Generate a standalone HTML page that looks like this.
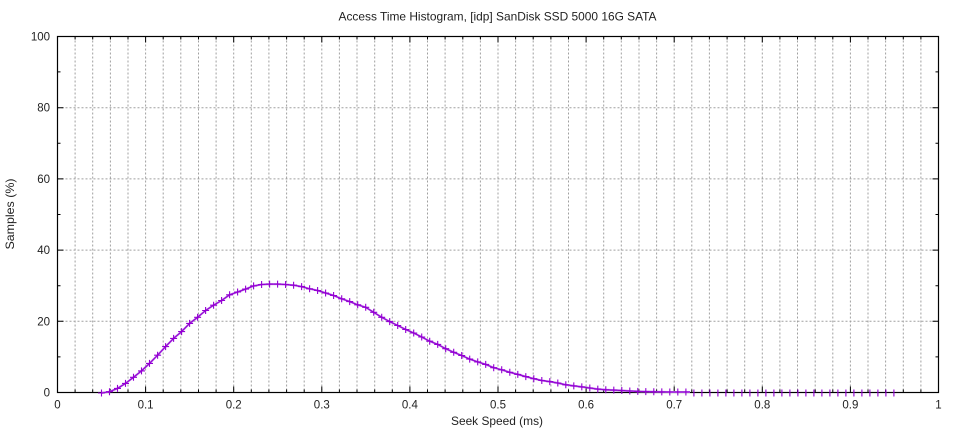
<!DOCTYPE html>
<html><head><meta charset="utf-8"><style>
html,body{margin:0;padding:0;background:#fff;}
svg{display:block;font-family:"Liberation Sans",sans-serif;}
</style></head><body>
<svg width="960" height="432" viewBox="0 0 960 432" xmlns="http://www.w3.org/2000/svg">
<rect width="960" height="432" fill="#fff"/>
<!-- grid -->
<g stroke="#a0a0a0" stroke-width="1" stroke-dasharray="2,2" fill="none">
<path d="M75.1 36.5V392.5M92.7 36.5V392.5M110.4 36.5V392.5M128 36.5V392.5M145.6 36.5V392.5M163.2 36.5V392.5M180.8 36.5V392.5M198.5 36.5V392.5M216.1 36.5V392.5M233.7 36.5V392.5M251.3 36.5V392.5M268.9 36.5V392.5M286.6 36.5V392.5M304.2 36.5V392.5M321.8 36.5V392.5M339.4 36.5V392.5M357 36.5V392.5M374.7 36.5V392.5M392.3 36.5V392.5M409.9 36.5V392.5M427.5 36.5V392.5M445.1 36.5V392.5M462.8 36.5V392.5M480.4 36.5V392.5M498 36.5V392.5M515.6 36.5V392.5M533.2 36.5V392.5M550.9 36.5V392.5M568.5 36.5V392.5M586.1 36.5V392.5M603.7 36.5V392.5M621.3 36.5V392.5M639 36.5V392.5M656.6 36.5V392.5M674.2 36.5V392.5M691.8 36.5V392.5M709.4 36.5V392.5M727.1 36.5V392.5M744.7 36.5V392.5M762.3 36.5V392.5M779.9 36.5V392.5M797.5 36.5V392.5M815.2 36.5V392.5M832.8 36.5V392.5M850.4 36.5V392.5M868 36.5V392.5M885.6 36.5V392.5M903.3 36.5V392.5M920.9 36.5V392.5"/>
<path d="M57.5 321.3H938.5M57.5 250.1H938.5M57.5 178.9H938.5M57.5 107.7H938.5"/>
</g>
<!-- ticks -->
<g stroke="#000" stroke-width="1" fill="none">
<path d="M145.6 392.5v-6M233.7 392.5v-6M321.8 392.5v-6M409.9 392.5v-6M498 392.5v-6M586.1 392.5v-6M674.2 392.5v-6M762.3 392.5v-6M850.4 392.5v-6
M145.6 36.5v6M233.7 36.5v6M321.8 36.5v6M409.9 36.5v6M498 36.5v6M586.1 36.5v6M674.2 36.5v6M762.3 36.5v6M850.4 36.5v6"/>
<path d="M75.1 392.5v-3M92.7 392.5v-3M110.4 392.5v-3M128 392.5v-3M163.2 392.5v-3M180.8 392.5v-3M198.5 392.5v-3M216.1 392.5v-3M251.3 392.5v-3M268.9 392.5v-3M286.6 392.5v-3M304.2 392.5v-3M339.4 392.5v-3M357 392.5v-3M374.7 392.5v-3M392.3 392.5v-3M427.5 392.5v-3M445.1 392.5v-3M462.8 392.5v-3M480.4 392.5v-3M515.6 392.5v-3M533.2 392.5v-3M550.9 392.5v-3M568.5 392.5v-3M603.7 392.5v-3M621.3 392.5v-3M639 392.5v-3M656.6 392.5v-3M691.8 392.5v-3M709.4 392.5v-3M727.1 392.5v-3M744.7 392.5v-3M779.9 392.5v-3M797.5 392.5v-3M815.2 392.5v-3M832.8 392.5v-3M868 392.5v-3M885.6 392.5v-3M903.3 392.5v-3M920.9 392.5v-3
M75.1 36.5v3M92.7 36.5v3M110.4 36.5v3M128 36.5v3M163.2 36.5v3M180.8 36.5v3M198.5 36.5v3M216.1 36.5v3M251.3 36.5v3M268.9 36.5v3M286.6 36.5v3M304.2 36.5v3M339.4 36.5v3M357 36.5v3M374.7 36.5v3M392.3 36.5v3M427.5 36.5v3M445.1 36.5v3M462.8 36.5v3M480.4 36.5v3M515.6 36.5v3M533.2 36.5v3M550.9 36.5v3M568.5 36.5v3M603.7 36.5v3M621.3 36.5v3M639 36.5v3M656.6 36.5v3M691.8 36.5v3M709.4 36.5v3M727.1 36.5v3M744.7 36.5v3M779.9 36.5v3M797.5 36.5v3M815.2 36.5v3M832.8 36.5v3M868 36.5v3M885.6 36.5v3M903.3 36.5v3M920.9 36.5v3"/>
<path d="M57.5 321.3h6M57.5 250.1h6M57.5 178.9h6M57.5 107.7h6M938.5 321.3h-6M938.5 250.1h-6M938.5 178.9h-6M938.5 107.7h-6
M57.5 356.9h3M57.5 285.7h3M57.5 214.5h3M57.5 143.3h3M57.5 71.9h3M938.5 356.9h-3M938.5 285.7h-3M938.5 214.5h-3M938.5 143.3h-3M938.5 71.9h-3"/>
</g>
<!-- border -->
<rect x="57.5" y="36.5" width="881" height="356" fill="none" stroke="#000" stroke-width="1.2"/>
<!-- series -->
<polyline fill="none" stroke="#b86ee6" stroke-width="2" stroke-linejoin="round" points="101.5,393 109.5,391.7 117.5,388.4 125.5,383.4 133.5,377.3 141.5,370.9 149.5,363.4 157.6,355.2 165.6,346.6 173.6,338.4 181.6,331.6 189.6,323.4 197.6,317.3 205.6,310.5 213.6,305.2 221.6,300.5 229.6,294.8 237.6,292 245.6,289.1 253.6,285.9 261.6,284.5 269.6,284.1 277.6,284.1 285.6,284.5 293.6,285.2 301.6,286.6 309.6,288.8 317.6,290.5 325.6,293 333.6,295.5 341.7,298.8 349.7,301.6 357.7,304.8 365.7,307.3 373.7,312.3 381.7,317.3 389.7,321.6 397.7,325.5 405.7,329.5 413.7,333 421.7,337 429.7,341.2 437.7,344.4 445.7,348.7 453.7,352.3 461.7,355.5 469.7,359.1 477.7,361.9 485.7,364.4 493.7,367.7 501.7,369.8 509.8,372.3 517.8,374.4 525.8,376.6 533.8,378.7 541.8,380.5 549.8,381.6 557.8,383 565.8,384.8 573.8,385.9 581.8,386.9 589.8,388 597.8,389.1 605.8,389.8 613.8,390.1 621.8,390.5 629.8,391 637.8,391.4 645.8,391.6 653.8,391.8 661.8,391.9 669.8,392 677.8,392 685.9,392 690,392"/>
<polyline fill="none" stroke="#9400d3" stroke-width="1" stroke-linejoin="round" points="101.5,393 109.5,391.7 117.5,388.4 125.5,383.4 133.5,377.3 141.5,370.9 149.5,363.4 157.6,355.2 165.6,346.6 173.6,338.4 181.6,331.6 189.6,323.4 197.6,317.3 205.6,310.5 213.6,305.2 221.6,300.5 229.6,294.8 237.6,292 245.6,289.1 253.6,285.9 261.6,284.5 269.6,284.1 277.6,284.1 285.6,284.5 293.6,285.2 301.6,286.6 309.6,288.8 317.6,290.5 325.6,293 333.6,295.5 341.7,298.8 349.7,301.6 357.7,304.8 365.7,307.3 373.7,312.3 381.7,317.3 389.7,321.6 397.7,325.5 405.7,329.5 413.7,333 421.7,337 429.7,341.2 437.7,344.4 445.7,348.7 453.7,352.3 461.7,355.5 469.7,359.1 477.7,361.9 485.7,364.4 493.7,367.7 501.7,369.8 509.8,372.3 517.8,374.4 525.8,376.6 533.8,378.7 541.8,380.5 549.8,381.6 557.8,383 565.8,384.8 573.8,385.9 581.8,386.9 589.8,388 597.8,389.1 605.8,389.8 613.8,390.1 621.8,390.5 629.8,391 637.8,391.4 645.8,391.6 653.8,391.8 661.8,391.9 669.8,392 677.8,392 685.9,392 690,392"/>
<!-- markers -->
<path fill="none" stroke="#9400d3" stroke-width="1.1" d="
M98 393h7M101.5 389.5v7 M106 391.7h7M109.5 388.2v7 M114 388.4h7M117.5 384.9v7 M122 383.4h7M125.5 379.9v7 M130 377.3h7M133.5 373.8v7 M138 370.9h7M141.5 367.4v7 M146 363.4h7M149.5 359.9v7 M154.1 355.2h7M157.6 351.7v7 M162.1 346.6h7M165.6 343.1v7 M170.1 338.4h7M173.6 334.9v7 M178.1 331.6h7M181.6 328.1v7 M186.1 323.4h7M189.6 319.9v7 M194.1 317.3h7M197.6 313.8v7 M202.1 310.5h7M205.6 307v7 M210.1 305.2h7M213.6 301.7v7 M218.1 300.5h7M221.6 297v7 M226.1 294.8h7M229.6 291.3v7 M234.1 292h7M237.6 288.5v7 M242.1 289.1h7M245.6 285.6v7 M250.1 285.9h7M253.6 282.4v7 M258.1 284.5h7M261.6 281v7 M266.1 284.1h7M269.6 280.6v7 M274.1 284.1h7M277.6 280.6v7 M282.1 284.5h7M285.6 281v7 M290.1 285.2h7M293.6 281.7v7 M298.1 286.6h7M301.6 283.1v7 M306.1 288.8h7M309.6 285.3v7 M314.1 290.5h7M317.6 287v7 M322.1 293h7M325.6 289.5v7 M330.1 295.5h7M333.6 292v7 M338.2 298.8h7M341.7 295.3v7 M346.2 301.6h7M349.7 298.1v7 M354.2 304.8h7M357.7 301.3v7 M362.2 307.3h7M365.7 303.8v7 M370.2 312.3h7M373.7 308.8v7 M378.2 317.3h7M381.7 313.8v7 M386.2 321.6h7M389.7 318.1v7 M394.2 325.5h7M397.7 322v7 M402.2 329.5h7M405.7 326v7 M410.2 333h7M413.7 329.5v7 M418.2 337h7M421.7 333.5v7 M426.2 341.2h7M429.7 337.7v7 M434.2 344.4h7M437.7 340.9v7 M442.2 348.7h7M445.7 345.2v7 M450.2 352.3h7M453.7 348.8v7 M458.2 355.5h7M461.7 352v7 M466.2 359.1h7M469.7 355.6v7 M474.2 361.9h7M477.7 358.4v7 M482.2 364.4h7M485.7 360.9v7 M490.2 367.7h7M493.7 364.2v7 M498.2 369.8h7M501.7 366.3v7 M506.3 372.3h7M509.8 368.8v7 M514.3 374.4h7M517.8 370.9v7 M522.3 376.6h7M525.8 373.1v7 M530.3 378.7h7M533.8 375.2v7 M538.3 380.5h7M541.8 377v7 M546.3 381.6h7M549.8 378.1v7 M554.3 383h7M557.8 379.5v7 M562.3 384.8h7M565.8 381.3v7 M570.3 385.9h7M573.8 382.4v7 M578.3 386.9h7M581.8 383.4v7 M586.3 388h7M589.8 384.5v7 M594.3 389.1h7M597.8 385.6v7 M602.3 389.8h7M605.8 386.3v7 M610.3 390.1h7M613.8 386.6v7 M618.3 390.5h7M621.8 387v7 M626.3 391h7M629.8 387.5v7 M634.3 391.4h7M637.8 387.9v7 M642.3 391.6h7M645.8 388.1v7 M650.3 391.8h7M653.8 388.3v7 M658.3 391.9h7M661.8 388.4v7 M666.3 392h7M669.8 388.5v7 M674.3 392h7M677.8 388.5v7 M682.4 392h7M685.9 388.5v7
M693.9 389.5v7M701.9 389.5v7M709.9 389.5v7M717.9 389.5v7M725.9 389.5v7M733.9 389.5v7M741.9 389.5v7M749.9 389.5v7M757.9 389.5v7M765.9 389.5v7M773.9 389.5v7M781.9 389.5v7M789.9 389.5v7M797.9 389.5v7M805.9 389.5v7M813.9 389.5v7M821.9 389.5v7M829.9 389.5v7M837.9 389.5v7M845.9 389.5v7M853.9 389.5v7M861.9 389.5v7M869.9 389.5v7M877.9 389.5v7M885.9 389.5v7M893.9 389.5v7"/>
<!-- labels -->
<g font-size="11.5" fill="#222">
<text x="50" y="40.5" text-anchor="end">100</text>
<text x="50" y="111.7" text-anchor="end">80</text>
<text x="50" y="182.9" text-anchor="end">60</text>
<text x="50" y="254.1" text-anchor="end">40</text>
<text x="50" y="325.3" text-anchor="end">20</text>
<text x="50" y="396.5" text-anchor="end">0</text>
<g text-anchor="middle">
<text x="57.5" y="408.5">0</text>
<text x="145.6" y="408.5">0.1</text>
<text x="233.7" y="408.5">0.2</text>
<text x="321.8" y="408.5">0.3</text>
<text x="409.9" y="408.5">0.4</text>
<text x="498" y="408.5">0.5</text>
<text x="586.1" y="408.5">0.6</text>
<text x="674.2" y="408.5">0.7</text>
<text x="762.3" y="408.5">0.8</text>
<text x="850.4" y="408.5">0.9</text>
<text x="938.5" y="408.5">1</text>
</g>
</g>
<text x="497.5" y="20.5" font-size="12" fill="#222" text-anchor="middle" textLength="318" lengthAdjust="spacingAndGlyphs">Access Time Histogram, [idp] SanDisk SSD 5000 16G SATA</text>
<text x="497" y="425" font-size="12" fill="#222" text-anchor="middle" textLength="92" lengthAdjust="spacingAndGlyphs">Seek Speed (ms)</text>
<text transform="translate(14,214) rotate(-90)" x="0" y="0" font-size="12" fill="#222" text-anchor="middle" textLength="71" lengthAdjust="spacingAndGlyphs">Samples (%)</text>
</svg>
</body></html>
